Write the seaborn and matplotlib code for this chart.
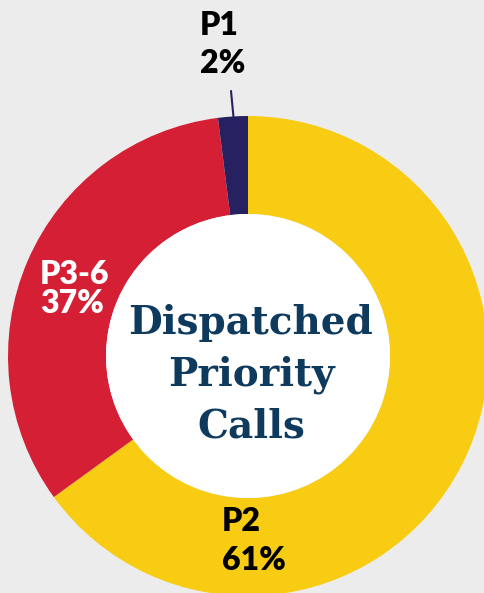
import matplotlib.pyplot as plt
from matplotlib.patches import Circle
import seaborn as sns

# slices clockwise from 12 o'clock
priorities = ['P2', 'P3-6', 'P1']
# printed labels
pct_labels = ['61%', '37%', '2%']
# slice sizes as drawn in the graphic (arc sweep)
drawn_shares = [65, 33, 2]
colors = ['#f9cc14', '#d51f35', '#262262']
center_title = 'Dispatched\nPriority\nCalls'

sns.set_theme(style='white')
plt.rcParams['font.family'] = ['Lato', 'DejaVu Sans']

W, H = 484, 593
fig = plt.figure(figsize=(W / 100, H / 100), dpi=100, facecolor='#ececec')
ax = fig.add_axes([0, 0, 1, 1])
ax.set_facecolor('#ececec')

cx, cy = 248, H - 356
R, r_in = 240, 142
ax.pie(drawn_shares, colors=colors, startangle=90, counterclock=False,
       radius=R, center=(cx, cy), frame=True,
       wedgeprops=dict(width=R - r_in, linewidth=0))
ax.add_patch(Circle((cx, cy), r_in, facecolor='white', edgecolor='none'))
ax.set_xlim(0, W)
ax.set_ylim(0, H)
ax.axis('off')


def py(y):
    return H - y


# label placement (pixel coords from top)
label_style = {
    'P2': dict(x=222, y=512, color='black', ls=1.42),
    'P3-6': dict(x=40, y=265, color='white', ls=1.02),
    'P1': dict(x=200, y=16, color='black', ls=1.36),
}
for name, pct in zip(priorities, pct_labels):
    s = label_style[name]
    ax.text(s['x'], py(s['y'] - 5), f'{name}\n{pct}', ha='left', va='top',
            fontsize=23, fontweight='heavy', color=s['color'],
            linespacing=s['ls'])

# leader line for P1
ax.plot([231, 233.5], [py(91), py(117)], color='#262262', lw=1.5)

ax.text(251, py(375), center_title, ha='center', va='center',
        fontsize=28, fontweight='bold', color='#0e3a5e',
        family=['DejaVu Serif'], linespacing=1.45)

fig.savefig('out.png', dpi=100, facecolor=fig.get_facecolor())
